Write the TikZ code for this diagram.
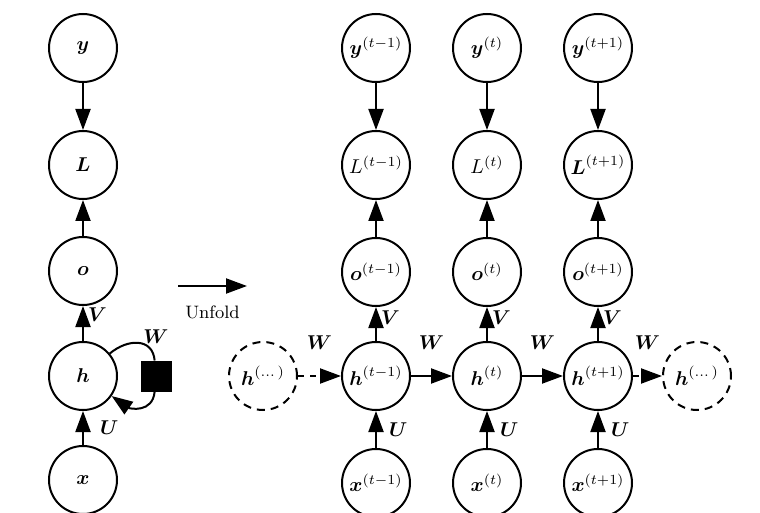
\documentclass[tikz,border=0pt]{standalone}
\usepackage{amsmath}
\usetikzlibrary{arrows.meta,positioning}
\tikzset{
  unit/.style    = {draw, circle, line width=1pt, minimum size=34pt, inner sep=0pt},
  ghost/.style   = {unit, dash pattern=on 4pt off 3pt},
  delaybox/.style = {draw, fill=black, rectangle, minimum size=14.5pt, inner sep=0pt},
  wlabel/.style  = {inner sep=1pt, font=\normalsize}
}
\newcommand{\bv}[1]{\boldsymbol{#1}}

\begin{document}
\begin{tikzpicture}[x=0.5pt, y=-0.5pt, line width=1pt,
  >={Triangle[length=10.5pt,width=7.5pt]}]
\useasboundingbox (0,0) rectangle (760,513);

% the folded network, left column
\node[unit] (x) at (83,480) {$\bv{x}$};
\node[unit] (h) at (83,376) {$\bv{h}$};
\node[unit] (o) at (83,271) {$\bv{o}$};
\node[unit] (L) at (83,165) {$\bv{L}$};
\node[unit] (y) at (83,48)  {$\bv{y}$};
\node[delaybox] (delay) at (156,376) {};
\node[wlabel, above=7pt of delay] (wloop) {$\bv{W}$};

\draw[->] (x) -- node[wlabel, right=7pt] {$\bv{U}$} (h);
\draw[->] (h) -- node[wlabel, right=1pt, pos=0.75] {$\bv{V}$} (o);
\draw[->] (o) -- (L);
\draw[->] (y) -- (L);
\draw (h) to[out=40, in=95, looseness=1.3] (delay);
\draw[->] (delay) to[out=-95, in=-35, looseness=1.3] (h);

% unfold arrow
\coordinate (u0) at (178,286);
\coordinate (u1) at (247,286);
\draw[->] (u0) -- node[below=6pt, font=\small] {Unfold} (u1);

% the unfolded network, one column per time step
\foreach \i/\xpos/\tm/\Lsym in {1/376/t-1/L, 2/487/t/L, 3/598/t+1/{\bv{L}}} {
  \node[unit] (x\i) at (\xpos,483) {$\bv{x}^{(\tm)}$};
  \node[unit] (h\i) at (\xpos,376) {$\bv{h}^{(\tm)}$};
  \node[unit] (o\i) at (\xpos,272) {$\bv{o}^{(\tm)}$};
  \node[unit] (L\i) at (\xpos,165) {$\Lsym^{(\tm)}$};
  \node[unit] (y\i) at (\xpos,48)  {$\bv{y}^{(\tm)}$};
  \draw[->] (x\i) -- node[wlabel, right=5pt] {$\bv{U}$} (h\i);
  \draw[->] (h\i) -- node[wlabel, right=1pt, pos=0.7] {$\bv{V}$} (o\i);
  \draw[->] (o\i) -- (L\i);
  \draw[->] (y\i) -- (L\i);
}
\node[ghost] (hin)  at (263,376) {$\bv{h}^{(\dots)}$};
\node[ghost] (hout) at (697,376) {$\bv{h}^{(\dots)}$};

% recurrent connections
\draw[->, dashed] (hin) -- node[wlabel, above=12pt] {$\bv{W}$} (h1);
\draw[->] (h1) -- node[wlabel, above=12pt] {$\bv{W}$} (h2);
\draw[->] (h2) -- node[wlabel, above=12pt] {$\bv{W}$} (h3);
\draw[->, dashed] (h3) -- node[wlabel, above=12pt] {$\bv{W}$} (hout);
\end{tikzpicture}
\end{document}
